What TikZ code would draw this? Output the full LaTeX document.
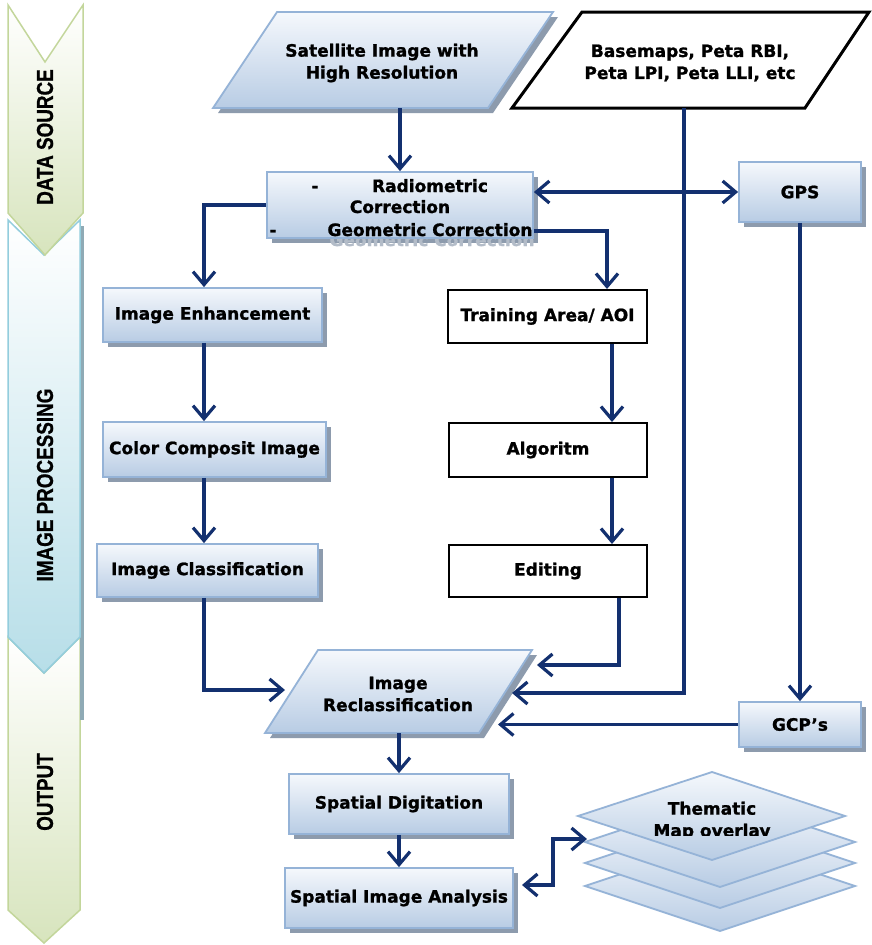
\documentclass[tikz,border=0pt]{standalone}
\usepackage{fontspec}
\setmainfont{DejaVu Sans}[BoldFeatures={FakeBold=1.2}]
\newfontfamily\bandfont{Liberation Sans}[BoldFeatures={FakeBold=1}]
\usetikzlibrary{arrows.meta,shadows}

\definecolor{navy}{HTML}{13306F}
\definecolor{boxtop}{HTML}{F5F8FC}
\definecolor{boxbot}{HTML}{B8CCE4}
\definecolor{boxline}{HTML}{95B3D7}
\definecolor{boxshadow}{HTML}{8D9BAD}
\definecolor{ghost}{HTML}{B3BCC8}
\definecolor{greenline}{HTML}{C3D69B}
\definecolor{greenfill}{HTML}{D7E4BD}
\definecolor{blueline}{HTML}{93CDDD}
\definecolor{bluefill}{HTML}{B7DEE8}
\definecolor{bandshadow}{HTML}{8FAAB5}

\tikzset{
  txt/.style={font=\bfseries\fontsize{17}{22}\selectfont, align=center, inner sep=0pt},
  size/.style 2 args={minimum width=#1pt, minimum height=#2pt},
  bluebox/.style={txt, rectangle, draw=boxline, line width=1.8pt,
    top color=boxtop, bottom color=boxbot,
    drop shadow={shadow xshift=5pt, shadow yshift=-5pt, fill=boxshadow, opacity=1}},
  plainbox/.style={txt, rectangle, draw=black, line width=2pt, fill=white},
  slab/.style={draw=boxline, line width=1.8pt, top color=boxtop, bottom color=boxbot},
  slabshadow/.style={fill=boxshadow},
  bandtxt/.style={font=\bandfont\bfseries\fontsize{23}{23}\selectfont, rotate=90, inner sep=0pt},
  tip/.tip={Straight Barb[length=13pt,width=22pt]},
  conn/.style={draw=navy, line width=3.2pt, -tip},
  dconn/.style={draw=navy, line width=3.2pt, tip-tip},
}

\begin{document}
\begin{tikzpicture}[x=1pt,y=-1pt]
\useasboundingbox (0,0) rectangle (872,945);
\fill[white] (0,0) rectangle (872,945);

% ---------- stage bands on the left ----------
\path[draw=greenline, line width=1.5pt, top color=white, bottom color=greenfill]
  (8,637) -- (44,673) -- (80,637) -- (80,910) -- (44,943) -- (8,910) -- cycle;
\fill[bandshadow] (80,226) rectangle (84,720);
\path[draw=blueline, line width=1.5pt, top color=white, bottom color=bluefill]
  (8,220) -- (44,255) -- (80,220) -- (80,637) -- (44,673) -- (8,637) -- cycle;
\path[draw=greenline, line width=1.5pt, top color=white, bottom color=greenfill]
  (8,5) -- (45,62) -- (83,5) -- (83,213) -- (45,255) -- (8,213) -- cycle;

\node[bandtxt] (bandA) at (45,137) {\scalebox{0.82}[1]{DATA SOURCE}};
\node[bandtxt] (bandB) at (45,485) {\scalebox{0.82}[1]{IMAGE PROCESSING}};
\node[bandtxt] (bandC) at (45,792) {\scalebox{0.82}[1]{OUTPUT}};

% ---------- input data ----------
\fill[slabshadow, shift={(5,5)}] (277,12) -- (553,12) -- (488,108) -- (213,108) -- cycle;
\path[slab] (277,12) -- (553,12) -- (488,108) -- (213,108) -- cycle;
\node[txt] (sat) at (382,63) {Satellite Image with\\High Resolution};
\coordinate (satB) at (400,108);

\path[draw=black, line width=3pt, fill=white, line join=miter]
  (582,12) -- (869,12) -- (805,108) -- (512,108) -- cycle;
\node[txt] (base) at (690,63) {Basemaps, Peta RBI,\\Peta LPI, Peta LLI, etc};
\coordinate (baseB) at (684,108);

% ---------- correction and GPS ----------
\node[bluebox, size={266}{66}] (radio) at (400,205) {};
\node[txt, anchor=base] (radioD1) at (315,192) {-};
\node[txt, anchor=base] (radioT1) at (430,192) {Radiometric};
\node[txt, anchor=base] (radioT2) at (400,213) {Correction};
\node[txt, anchor=base] (radioD2) at (273,236) {-};
\node[txt, anchor=base] (radioT3) at (430,236) {Geometric Correction};
% faint text shadow peeking out under the box
\begin{scope}
  \clip (262,239.6) rectangle (545,248);
  \node[txt, anchor=base, text=ghost] (radioT3s) at (432,246) {Geometric Correction};
\end{scope}

\node[bluebox, size={122}{60}] (gps) at (800,192) {GPS};

% ---------- left processing column ----------
\node[bluebox, size={219}{54}] (enh) at (212.5,315) {Image Enhancement};
\node[bluebox, size={223}{55}] (col) at (214.5,449.5) {Color Composit Image};
\node[bluebox, size={221}{53}] (cls) at (207.5,570.5) {Image Classification};

% ---------- right processing column ----------
\node[plainbox, size={199}{53}] (train) at (547.5,316.5) {Training Area/ AOI};
\node[plainbox, size={198}{54}] (algo) at (548,450) {Algoritm};
\node[plainbox, size={198}{52}] (edit) at (548,571) {Editing};

% ---------- reclassification and ground control ----------
\fill[slabshadow, shift={(5,5)}] (318,650) -- (532,650) -- (479,733) -- (265,733) -- cycle;
\path[slab] (318,650) -- (532,650) -- (479,733) -- (265,733) -- cycle;
\node[txt] (recl) at (398,694) {Image\\Reclassification};
\coordinate (reclB) at (399,733);
\coordinate (reclL) at (285,690);
\coordinate (reclR1) at (537,665);
\coordinate (reclR2) at (512,693);
\coordinate (reclR3) at (498,0);

\node[bluebox, size={122}{45}] (gcp) at (800,724.5) {GCP’s};

% ---------- output ----------
\node[bluebox, size={220}{60}] (sdig) at (399,804) {Spatial Digitation};
\node[bluebox, size={228}{60}] (sia) at (399,898) {Spatial Image Analysis};

% thematic map stack
\foreach \cy in {886,863,842}{
  \path[slab] (585,\cy) -- (720,\cy-45) -- (855,\cy) -- (720,\cy+45) -- cycle;
}
\path[slab] (578,816) -- (712,772) -- (845,816) -- (712,860) -- cycle;
\begin{scope}
  \clip (560,770) rectangle (860,835);
  \node[txt] (thm) at (712,821) {Thematic\\Map overlay};
\end{scope}
\coordinate (thmL) at (587,839);
\coordinate (siaR) at (522,885);

% ---------- connectors ----------
\coordinate (lx) at (204,0);
\coordinate (mx) at (612,0);
\coordinate (tx) at (607,0);
\coordinate (ex) at (619,0);
\coordinate (ry) at (0,231);
\coordinate (jx) at (553,0);

\draw[conn] (satB) -- (radio.north);
\draw[conn] (radio.west) -| (enh.north -| lx);
\draw[conn] (enh.south -| lx) -- (col.north -| lx);
\draw[conn] (col.south -| lx) -- (cls.north -| lx);
\draw[conn] (cls.south -| lx) |- (reclL);

\draw[conn] (radio.east |- ry) -| (train.north -| tx);
\draw[conn] (train.south -| mx) -- (algo.north -| mx);
\draw[conn] (algo.south -| mx) -- (edit.north -| mx);
\draw[conn] (edit.south -| ex) |- (reclR1);

\draw[dconn] (radio.east |- gps) -- (gps.west);
\draw[conn] (baseB) |- (reclR2);
\draw[conn] (gps.south) -- (gcp.north);
\draw[conn] (gcp.west) -- (gcp.west -| reclR3);

\draw[conn] (reclB) -- (sdig.north);
\draw[conn] (sdig.south) -- (sia.north);
\draw[dconn] (siaR) -- (siaR -| jx) -- (thmL -| jx) -- (thmL);
\end{tikzpicture}
\end{document}
